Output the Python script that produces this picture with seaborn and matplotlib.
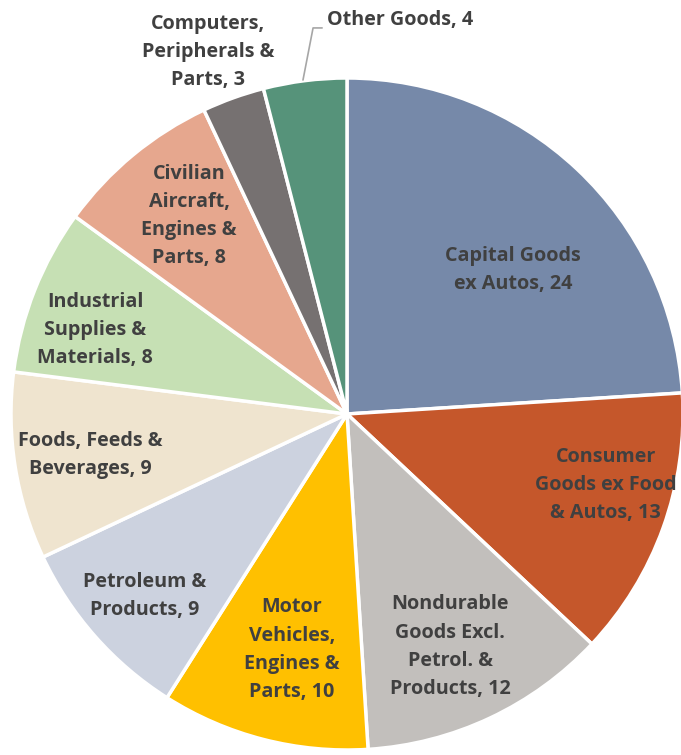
import seaborn as sns
import matplotlib.pyplot as plt

sns.set_theme(style="white")
plt.rcParams['font.family'] = ['Open Sans', 'DejaVu Sans']

# Export shares by category (clockwise from 12 o'clock)
categories = ["Capital Goods\nex Autos", "Consumer\nGoods ex Food\n& Autos",
              "Nondurable\nGoods Excl.\nPetrol. &\nProducts", "Motor\nVehicles,\nEngines &\nParts",
              "Petroleum &\nProducts", "Foods, Feeds &\nBeverages", "Industrial\nSupplies &\nMaterials",
              "Civilian\nAircraft,\nEngines &\nParts", "Computers,\nPeripherals &\nParts", "Other Goods"]
values = [24, 13, 12, 10, 9, 9, 8, 8, 3, 4]
colors = ["#7689A9", "#C5572B", "#C2BFBC", "#FFC000", "#CCD2DF", "#EFE4CF",
          "#C6E0B4", "#E6A78E", "#767171", "#56937A"]

# label placement (in units of pie radius)
label_xy = [(0.494, 0.429), (0.77, -0.211), (0.307, -0.693), (-0.164, -0.702), (-0.601, -0.542),
            (-0.765, -0.122), (-0.75, 0.25), (-0.47, 0.589), (-0.414, 1.077), (-0.06, 1.173)]

fig = plt.figure(figsize=(6.81, 7.55), dpi=100)
ax = fig.add_axes([11 / 681, 5 / 755, 672 / 681, 672 / 755])
ax.pie(values, colors=colors, startangle=90, counterclock=False, radius=1,
       wedgeprops=dict(edgecolor="white", linewidth=2.5))
ax.set_xlim(-1, 1)
ax.set_ylim(-1, 1)
ax.axis("off")

for i, (lab, v) in enumerate(zip(categories, values)):
    x, y = label_xy[i]
    ha = "left" if i == len(values) - 1 else "center"
    ax.text(x, y, f"{lab}, {v}", ha=ha, va="center", fontsize=14.2,
            fontweight="bold", color="#404040", linespacing=1.55, clip_on=False)

# leader line for Other Goods
ax.plot([-0.131, -0.101, -0.074], [0.994, 1.149, 1.149], color="#A6A6A6", lw=1.2, clip_on=False)

plt.savefig("out.png", dpi=100)
plt.close()
